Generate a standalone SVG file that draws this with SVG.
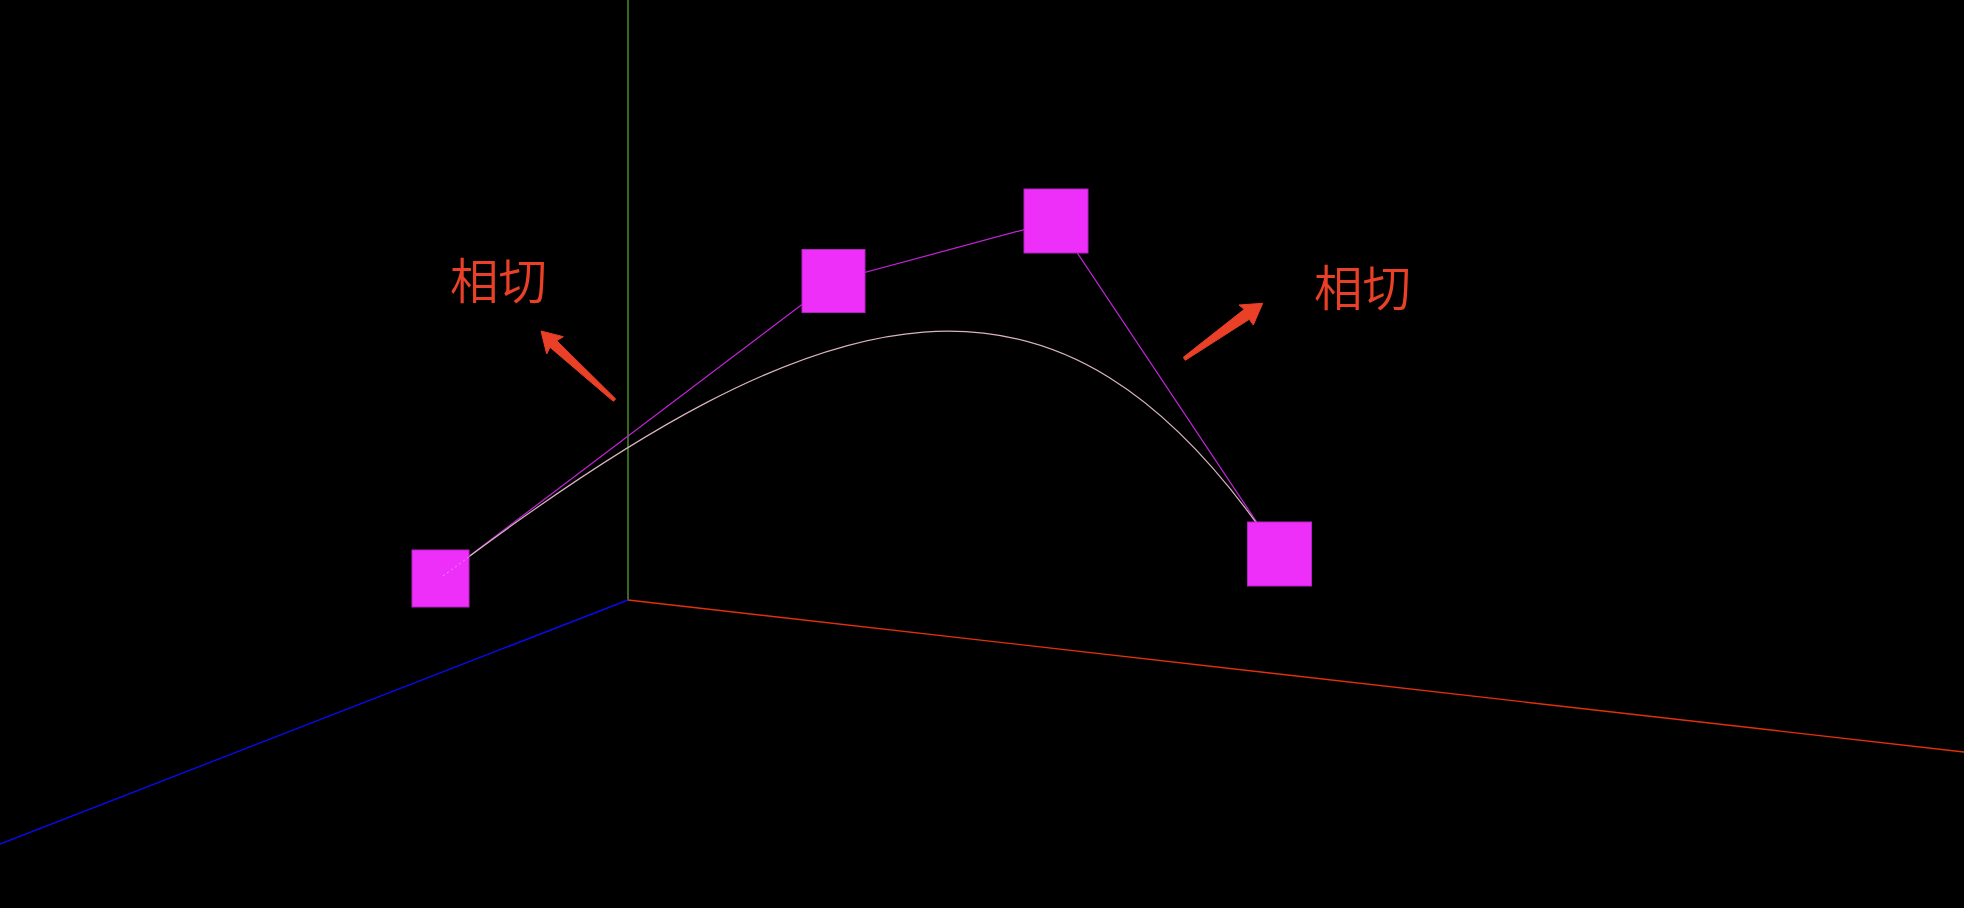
<svg xmlns="http://www.w3.org/2000/svg" width="1964" height="908" viewBox="0 0 1964 908">
<style>
.axis{fill:none;stroke-width:1.4}
.tan{fill:none;stroke:#c224d8;stroke-width:1.2}
.curve{fill:none;stroke:#d8b4c0;stroke-width:1.2}
.sq{fill:#ee2ff9;stroke:#b522c4;stroke-width:1}
.note{fill:#ea4027;stroke:#ea4027;stroke-width:1;stroke-linejoin:round}
.label{fill:#ea4027;font-family:"Noto Sans CJK SC","Liberation Sans",sans-serif;font-size:48.5px;font-weight:350}
.trace{fill:none;stroke:#f59cf7;stroke-width:.8;stroke-dasharray:2 3}
</style>
<rect id="background" width="1964" height="908" fill="#000"/>
<g id="connectors">
<line class="axis" x1="628" y1="0" x2="628" y2="600" stroke="#4a9a28"/>
<line class="axis" x1="628" y1="600" x2="0" y2="844" stroke="#0a0ae8"/>
<line class="axis" x1="628" y1="600" x2="1964" y2="752" stroke="#e0300f"/>
<polyline class="tan" points="443,576 833,281 1056,221 1278,554"/>
<path class="curve" d="M443,576 C830,283.3 1059,225.5 1278,554"/>
</g>
<g id="node-1"><rect class="sq" x="412" y="550" width="57" height="57"/></g>
<g id="node-2"><rect class="sq" x="802" y="249.5" width="63" height="63"/></g>
<g id="node-3"><rect class="sq" x="1024" y="189" width="64" height="64"/></g>
<g id="node-4"><rect class="sq" x="1247.5" y="522" width="64" height="64"/></g>
<line class="trace" x1="443" y1="576" x2="469" y2="557"/>
<g id="note-left">
<polygon class="note" points="541,331 563.3,336.7 556.7,340.7 615.7,399 613.3,401.3 550,347.3 546.7,354"/>
<text class="label" x="450" y="298.5">相切</text>
</g>
<g id="note-right">
<polygon class="note" points="1262.7,303.3 1239,305 1244.3,309.3 1183.3,357.3 1185.3,360.3 1249.3,319.3 1253.3,325"/>
<text class="label" x="1314" y="305.5">相切</text>
</g>
</svg>
